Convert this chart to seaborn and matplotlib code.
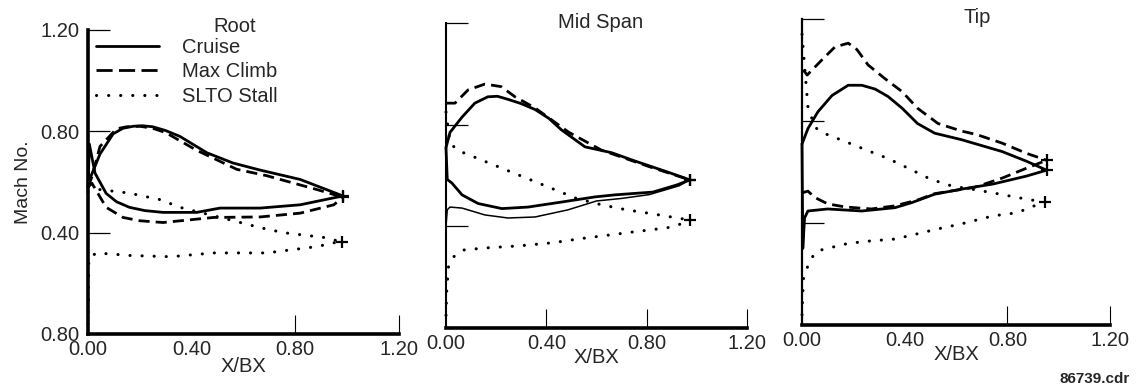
import matplotlib
matplotlib.use("Agg")
import matplotlib.pyplot as plt
import seaborn as sns
from matplotlib.lines import Line2D

sns.set_theme(style="white")
plt.rcParams["font.family"] = ["Liberation Sans", "DejaVu Sans"]
plt.rcParams["font.size"] = 14.5

# ---------------- Root section ----------------
root_cruise_up_x = [0.00, 0.01, 0.046, 0.097, 0.135, 0.175, 0.21, 0.25, 0.30, 0.355, 0.46, 0.56, 0.665, 0.82, 0.985]
root_cruise_up_m = [0.58, 0.62, 0.71, 0.79, 0.812, 0.82, 0.822, 0.818, 0.803, 0.78, 0.715, 0.675, 0.647, 0.61, 0.545]
root_cruise_lo_x = [0.00, 0.005, 0.027, 0.07, 0.11, 0.16, 0.22, 0.29, 0.42, 0.51, 0.665, 0.82, 0.985]
root_cruise_lo_m = [0.58, 0.75, 0.635, 0.555, 0.522, 0.50, 0.487, 0.48, 0.48, 0.497, 0.497, 0.51, 0.545]
root_climb_up_x = [0.00, 0.015, 0.046, 0.11, 0.15, 0.20, 0.25, 0.30, 0.42, 0.575, 0.69, 0.885, 0.985]
root_climb_up_m = [0.58, 0.62, 0.74, 0.81, 0.818, 0.82, 0.812, 0.795, 0.725, 0.65, 0.625, 0.57, 0.54]
root_climb_lo_x = [0.00, 0.015, 0.07, 0.135, 0.20, 0.29, 0.485, 0.665, 0.82, 0.95, 0.985]
root_climb_lo_m = [0.58, 0.595, 0.50, 0.46, 0.447, 0.44, 0.46, 0.462, 0.477, 0.51, 0.54]
root_stall_up_x = [0.00, 0.046, 0.16, 0.28, 0.355, 0.55, 0.665, 0.755, 0.92, 0.98]
root_stall_up_m = [0.56, 0.57, 0.556, 0.53, 0.50, 0.45, 0.42, 0.40, 0.38, 0.363]
root_stall_lo_x = [0.00, 0.003, 0.033, 0.16, 0.32, 0.485, 0.69, 0.885, 0.95, 0.98]
root_stall_lo_m = [0.04, 0.30, 0.32, 0.31, 0.305, 0.32, 0.32, 0.345, 0.36, 0.363]

# ---------------- Mid span section ----------------
mid_cruise_up_x = [0.00, 0.016, 0.064, 0.115, 0.167, 0.205, 0.247, 0.30, 0.355, 0.41, 0.46, 0.554, 0.66, 0.745, 0.88, 0.972]
mid_cruise_up_m = [0.71, 0.77, 0.83, 0.885, 0.91, 0.912, 0.90, 0.883, 0.86, 0.825, 0.78, 0.713, 0.69, 0.66, 0.615, 0.583]
mid_cruise_lo_x = [0.00, 0.005, 0.024, 0.064, 0.128, 0.223, 0.327, 0.462, 0.594, 0.673, 0.825, 0.92, 0.972]
mid_cruise_lo_m = [0.71, 0.585, 0.57, 0.524, 0.49, 0.47, 0.476, 0.496, 0.516, 0.524, 0.535, 0.563, 0.583]
mid_climb_up_x = [0.00, 0.036, 0.088, 0.155, 0.22, 0.275, 0.355, 0.49, 0.62, 0.81, 0.972]
mid_climb_up_m = [0.885, 0.885, 0.937, 0.96, 0.95, 0.91, 0.866, 0.77, 0.70, 0.635, 0.583]
mid_climb_lo_x = [0.00, 0.005, 0.016, 0.064, 0.155, 0.247, 0.355, 0.486, 0.60, 0.70, 0.81, 0.93, 0.972]
mid_climb_lo_m = [0.40, 0.465, 0.476, 0.472, 0.445, 0.433, 0.437, 0.465, 0.50, 0.51, 0.525, 0.56, 0.583]
mid_stall_up_x = [0.00, 0.016, 0.044, 0.12, 0.22, 0.32, 0.42, 0.52, 0.62, 0.72, 0.82, 0.91, 0.972]
mid_stall_up_m = [0.85, 0.73, 0.70, 0.67, 0.63, 0.59, 0.55, 0.51, 0.485, 0.465, 0.45, 0.435, 0.425]
mid_stall_lo_x = [0.00, 0.003, 0.01, 0.03, 0.07, 0.155, 0.287, 0.42, 0.554, 0.66, 0.745, 0.88, 0.924, 0.972]
mid_stall_lo_m = [0.05, 0.15, 0.24, 0.28, 0.307, 0.315, 0.323, 0.335, 0.354, 0.367, 0.378, 0.394, 0.405, 0.425]

# ---------------- Tip section ----------------
tip_cruise_up_x = [0.00, 0.023, 0.062, 0.117, 0.18, 0.233, 0.285, 0.335, 0.39, 0.45, 0.517, 0.62, 0.78, 0.875, 0.953]
tip_cruise_up_m = [0.71, 0.77, 0.836, 0.90, 0.94, 0.94, 0.925, 0.896, 0.85, 0.79, 0.752, 0.727, 0.68, 0.642, 0.607]
tip_cruise_lo_x = [0.00, 0.003, 0.01, 0.023, 0.10, 0.233, 0.362, 0.428, 0.517, 0.623, 0.745, 0.875, 0.953]
tip_cruise_lo_m = [0.71, 0.30, 0.42, 0.447, 0.455, 0.447, 0.46, 0.48, 0.513, 0.533, 0.553, 0.584, 0.607]
tip_climb_up_x = [0.005, 0.02, 0.078, 0.128, 0.18, 0.214, 0.257, 0.323, 0.39, 0.45, 0.53, 0.623, 0.68, 0.78, 0.875, 0.953]
tip_climb_up_m = [1.00, 0.98, 1.04, 1.09, 1.105, 1.08, 1.02, 0.966, 0.915, 0.85, 0.79, 0.76, 0.747, 0.713, 0.673, 0.646]
tip_climb_lo_x = [0.00, 0.023, 0.05, 0.10, 0.167, 0.27, 0.36, 0.45, 0.517, 0.673, 0.78, 0.875, 0.953]
tip_climb_lo_m = [0.518, 0.525, 0.50, 0.475, 0.463, 0.455, 0.467, 0.49, 0.515, 0.54, 0.576, 0.615, 0.646]
tip_stall_up_x = [0.00, 0.012, 0.023, 0.05, 0.09, 0.167, 0.253, 0.335, 0.413, 0.50, 0.584, 0.66, 0.745, 0.85, 0.895, 0.945]
tip_stall_up_m = [1.14, 0.99, 0.856, 0.775, 0.75, 0.72, 0.685, 0.653, 0.615, 0.572, 0.545, 0.533, 0.518, 0.498, 0.49, 0.483]
tip_stall_lo_x = [0.00, 0.005, 0.03, 0.058, 0.097, 0.18, 0.27, 0.362, 0.447, 0.53, 0.623, 0.745, 0.837, 0.887, 0.945]
tip_stall_lo_m = [0.04, 0.18, 0.253, 0.29, 0.30, 0.32, 0.33, 0.337, 0.357, 0.377, 0.397, 0.428, 0.44, 0.46, 0.483]

conditions = ["Cruise", "Max Climb", "SLTO Stall"]
x_ticks = [0.0, 0.4, 0.8, 1.2]
x_tick_labels = ["0.00", "0.40", "0.80", "1.20"]
y_ticks = [0.0, 0.4, 0.8, 1.2]
y_tick_labels = ["0.80", "0.40", "0.80", "1.20"]
panel_titles = ["Root", "Mid Span", "Tip"]

STYLES = {
    "Cruise": dict(linestyle="-", linewidth=2.0),
    "Max Climb": dict(linestyle=(0, (4.0, 2.2)), linewidth=2.0),
    "SLTO Stall": dict(linestyle=(0, (0.05, 3.9)), linewidth=2.2,
                       dash_capstyle="round"),
}
THIN = dict(linestyle="-", linewidth=1.1)

panels = [
    {
        "Cruise": (root_cruise_up_x, root_cruise_up_m, root_cruise_lo_x, root_cruise_lo_m),
        "Max Climb": (root_climb_up_x, root_climb_up_m, root_climb_lo_x, root_climb_lo_m),
        "SLTO Stall": (root_stall_up_x, root_stall_up_m, root_stall_lo_x, root_stall_lo_m),
    },
    {
        "Cruise": (mid_cruise_up_x, mid_cruise_up_m, mid_cruise_lo_x, mid_cruise_lo_m),
        "Max Climb": (mid_climb_up_x, mid_climb_up_m, mid_climb_lo_x, mid_climb_lo_m),
        "SLTO Stall": (mid_stall_up_x, mid_stall_up_m, mid_stall_lo_x, mid_stall_lo_m),
    },
    {
        "Cruise": (tip_cruise_up_x, tip_cruise_up_m, tip_cruise_lo_x, tip_cruise_lo_m),
        "Max Climb": (tip_climb_up_x, tip_climb_up_m, tip_climb_lo_x, tip_climb_lo_m),
        "SLTO Stall": (tip_stall_up_x, tip_stall_up_m, tip_stall_lo_x, tip_stall_lo_m),
    },
]

# axes rectangles in figure fractions
rects = [
    [0.0775, 0.1325, 0.2733, 0.7896],
    [0.3926, 0.1480, 0.2650, 0.7920],
    [0.7060, 0.1558, 0.2711, 0.7950],
]
title_pos = [(0.473, 1.013), (0.512, 1.002), (0.568, 1.005)]
left_spine_w = [2.6, 1.5, 1.6]
visible_xticks = [[0.8, 1.2], [0.4, 0.8, 1.2], [0.8, 1.2]]
xlabel_pads = [-1, -3, -3]

fig = plt.figure(figsize=(11.36, 3.85), dpi=100)

for i, (data, rect) in enumerate(zip(panels, rects)):
    ax = fig.add_axes(rect)
    ax.set_facecolor("white")
    for cond in conditions:
        ux, um, lx, lm = data[cond]
        style = STYLES[cond]
        lower_style = THIN if (i == 1 and cond == "Max Climb") else style
        sns.lineplot(x=ux, y=um, sort=False, estimator=None, errorbar=None,
                     ax=ax, color="black", clip_on=False, **style)
        sns.lineplot(x=lx, y=lm, sort=False, estimator=None, errorbar=None,
                     ax=ax, color="black", clip_on=False, **lower_style)
        # trailing-edge point marked with a cross
        ax.plot([ux[-1]], [um[-1]], marker="+", markersize=8, mew=1.6,
                color="black", linestyle="none", clip_on=False)

    ax.set_xlim(0, 1.2)
    ax.set_ylim(0, 1.2)
    for side in ("top", "right"):
        ax.spines[side].set_visible(False)
    ax.spines["left"].set_linewidth(left_spine_w[i])
    ax.spines["bottom"].set_linewidth(2.6)
    ax.spines["left"].set_color("black")
    ax.spines["bottom"].set_color("black")

    ax.set_xticks(x_ticks)
    ax.set_xticklabels(x_tick_labels)
    ax.set_yticks(y_ticks)
    if i == 0:
        ax.set_yticklabels(y_tick_labels)
        ax.set_ylabel("Mach No.", fontsize=14, labelpad=6)
    else:
        ax.set_yticklabels([])
        ax.set_ylabel("")
    ax.tick_params(axis="y", direction="in", length=16, width=0.9,
                   color="black", pad=6, labelsize=14.5, left=True)
    ax.tick_params(axis="x", direction="in", length=14, width=0.8,
                   color="black", pad=4, labelsize=14.5, bottom=True)
    for tick_val, tl in zip(x_ticks, ax.xaxis.get_major_ticks()):
        tl.tick1line.set_visible(tick_val in visible_xticks[i])
    ax.yaxis.get_major_ticks()[0].tick1line.set_visible(False)

    ax.set_xlabel("X/BX", fontsize=14.5, labelpad=xlabel_pads[i])
    ax.text(title_pos[i][0], title_pos[i][1], panel_titles[i],
            transform=ax.transAxes, ha="center", va="center", fontsize=14.5)

    if i == 0:
        handles = [Line2D([], [], color="black", **STYLES["Cruise"]),
                   Line2D([], [], color="black", linestyle=(0, (5.8, 2.3)), linewidth=2.0),
                   Line2D([], [], color="black", **STYLES["SLTO Stall"])]
        ax.legend(handles, conditions, loc="upper left",
                  bbox_to_anchor=(0.026, 0.975), frameon=False,
                  borderpad=0, borderaxespad=0, handlelength=3.1,
                  handletextpad=1.15, labelspacing=0.28, fontsize=14.5)

fig.text(0.9947, 0.006, "86739.cdr", ha="right", va="baseline",
         fontsize=11, fontweight="bold")

fig.savefig("out.png", dpi=100, facecolor="white")
